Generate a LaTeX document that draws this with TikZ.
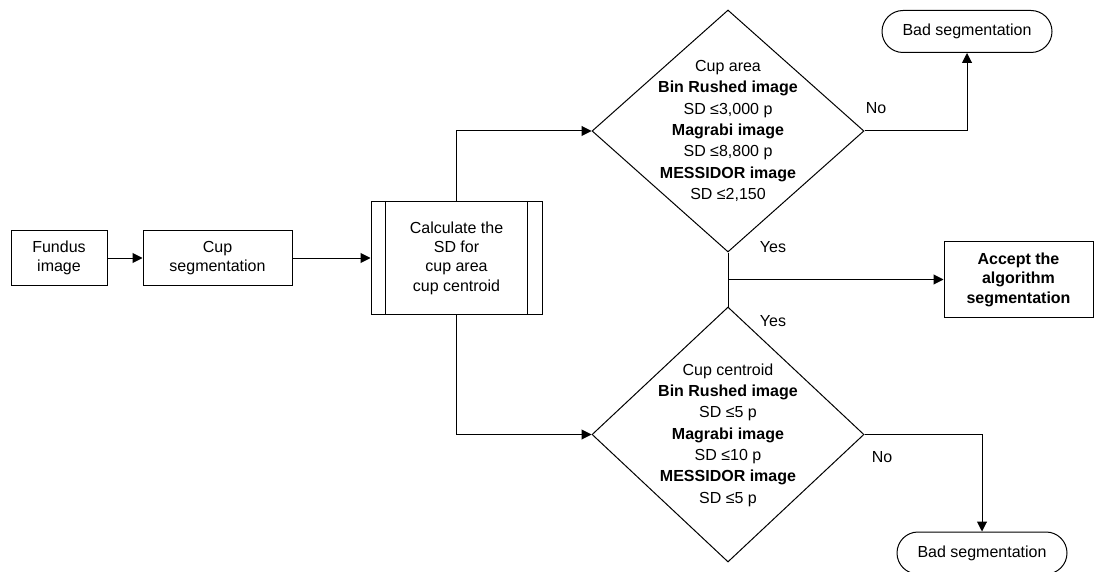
\documentclass[tikz,border=0pt]{standalone}
\usepackage{fontspec}
\setmainfont{Liberation Sans}
\usetikzlibrary{shapes.geometric,arrows.meta}
\begin{document}
\begin{tikzpicture}[x=1pt,y=-1pt,line width=1pt,
  txt/.style={font=\fontsize{16}{19.3}\selectfont,align=center,inner sep=0pt},
  dtxt/.style={font=\fontsize{16}{21.3}\selectfont,align=center,inner sep=0pt},
  box/.style={draw,rectangle,txt},
  term/.style={draw,rectangle,rounded corners=21pt,txt,minimum width=170pt,minimum height=42pt},
  decision/.style={draw,diamond,inner sep=0pt},
  arr/.style={-{Triangle[length=10pt,width=10pt]}}]
\useasboundingbox (0,0) rectangle (1095,572);
% boxes
\node[box,minimum width=96pt,minimum height=55pt] (fundus) at (59,258) {Fundus\\image};
\node[box,minimum width=149pt,minimum height=55pt] (cupseg) at (217.5,258) {Cup\\segmentation};
\node[box,minimum width=171pt,minimum height=113pt] (calc) at (456.5,258) {Calculate the\\SD for\\cup area\\cup centroid};
\draw ([xshift=15pt]calc.north west) -- ([xshift=15pt]calc.south west);
\draw ([xshift=-15pt]calc.north east) -- ([xshift=-15pt]calc.south east);
\node[decision,minimum width=272pt,minimum height=242pt] (d1) at (728,131) {};
\node[dtxt] (d1t) at (728,131) {Cup area\\\textbf{Bin Rushed image}\\SD ≤3,000 p\\\textbf{Magrabi image}\\SD ≤8,800 p\\\textbf{MESSIDOR image}\\SD ≤2,150};
\node[decision,minimum width=272pt,minimum height=255pt] (d2) at (728,434.5) {};
\node[dtxt] (d2t) at (728,435) {Cup centroid\\\textbf{Bin Rushed image}\\SD ≤5 p\\\textbf{Magrabi image}\\SD ≤10 p\\\textbf{MESSIDOR image}\\SD ≤5 p};
\node[box,minimum width=149pt,minimum height=75pt,font=\fontsize{16}{19.5}\selectfont\bfseries] (accept) at (1018.5,279.5) {Accept the\\algorithm\\segmentation};
\node[term] (bad1) at (967,31.5) {Bad segmentation};
\node[term] (bad2) at (982,553) {Bad segmentation};
% connectors
\draw[arr] (fundus.east) -- (cupseg.west);
\draw[arr] (cupseg.east) -- (calc.west);
\draw[arr] (calc.north) |- (d1.west);
\draw[arr] (calc.south) |- (d2.west);
\draw[arr] (d1.east) -| (bad1.south);
\draw[arr] (d2.east) -| (bad2.north);
\draw (d1.south) -- (d2.north);
\coordinate (j) at (d1.south |- accept.west);
\draw[arr] (j) -- (accept.west);
% labels
\node[txt] (yes1) at (773,247) {Yes};
\node[txt] (yes2) at (773,321) {Yes};
\node[txt] (no1) at (876,108) {No};
\node[txt] (no2) at (882,457) {No};
\end{tikzpicture}
\end{document}
